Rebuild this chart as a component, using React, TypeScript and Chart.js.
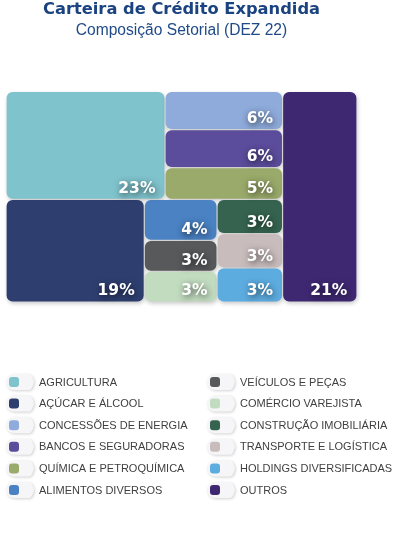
import React, { useEffect, useRef } from 'react';
import { Chart, registerables } from 'chart.js';

Chart.register(...registerables);

const titleText = 'Carteira de Crédito Expandida';
const subtitleText = 'Composição Setorial (DEZ 22)';

const sectors = [
  'AGRICULTURA',
  'AÇÚCAR E ÁLCOOL',
  'CONCESSÕES DE ENERGIA',
  'BANCOS E SEGURADORAS',
  'QUÍMICA E PETROQUÍMICA',
  'ALIMENTOS DIVERSOS',
  'VEÍCULOS E PEÇAS',
  'COMÉRCIO VAREJISTA',
  'CONSTRUÇÃO IMOBILIÁRIA',
  'TRANSPORTE E LOGÍSTICA',
  'HOLDINGS DIVERSIFICADAS',
  'OUTROS',
];

const shares = [23, 19, 6, 6, 5, 4, 3, 3, 3, 3, 3, 21];

const sectorColors = [
  '#7fc3cc',
  '#2e3f6f',
  '#8eabdb',
  '#5c4c9c',
  '#9aaa6a',
  '#4a82c3',
  '#58595b',
  '#c2dcc0',
  '#35634f',
  '#c9bcbc',
  '#5dace0',
  '#3f2872',
];

// Grouping of the treemap (indices into sectors); 'h' splits side by side, 'v' stacks.
type TreeNode = number | { dir: 'h' | 'v'; children: TreeNode[] };
const layoutTree: TreeNode = {
  dir: 'h',
  children: [
    {
      dir: 'v',
      children: [
        { dir: 'h', children: [0, { dir: 'v', children: [2, 3, 4] }] },
        {
          dir: 'h',
          children: [1, { dir: 'v', children: [5, 6, 7] }, { dir: 'v', children: [8, 9, 10] }],
        },
      ],
    },
    11,
  ],
};

const legendColumns = [
  [0, 1, 2, 3, 4, 5],
  [6, 7, 8, 9, 10, 11],
];

type Cell = { index: number; x0: number; y0: number; x1: number; y1: number };

function nodeSum(node: TreeNode): number {
  if (typeof node === 'number') return shares[node];
  return node.children.reduce((s, c) => s + nodeSum(c), 0);
}

function layoutNode(node: TreeNode, x0: number, y0: number, x1: number, y1: number, out: Cell[]) {
  if (typeof node === 'number') {
    out.push({ index: node, x0, y0, x1, y1 });
    return;
  }
  const total = nodeSum(node);
  let pos = node.dir === 'h' ? x0 : y0;
  const span = node.dir === 'h' ? x1 - x0 : y1 - y0;
  node.children.forEach((child) => {
    const size = (nodeSum(child) / total) * span;
    if (node.dir === 'h') layoutNode(child, pos, y0, pos + size, y1, out);
    else layoutNode(child, x0, pos, x1, pos + size, out);
    pos += size;
  });
}

const treemapPlugin = {
  id: 'treemapCells',
  afterDatasetsDraw(chart: any) {
    const ctx: CanvasRenderingContext2D = chart.ctx;
    const xs = chart.scales.x;
    const ys = chart.scales.y;
    const cells: Cell[] = [];
    layoutNode(layoutTree, 0, 0, 1, 1, cells);
    const gap = 0.6;
    const rects = cells.map((c) => {
      const left = xs.getPixelForValue(c.x0) + gap;
      const right = xs.getPixelForValue(c.x1) - gap;
      const top = ys.getPixelForValue(c.y0) + gap;
      const bottom = ys.getPixelForValue(c.y1) - gap;
      return { index: c.index, left, right, top, bottom };
    });
    ctx.save();
    rects.forEach((r) => {
      ctx.save();
      ctx.shadowColor = 'rgba(0,0,0,0.22)';
      ctx.shadowBlur = 4;
      ctx.shadowOffsetX = 1;
      ctx.shadowOffsetY = 2;
      ctx.fillStyle = sectorColors[r.index];
      ctx.beginPath();
      ctx.roundRect(r.left, r.top, r.right - r.left, r.bottom - r.top, 6);
      ctx.fill();
      ctx.restore();
    });
    rects.forEach((r) => {
      ctx.save();
      ctx.font = 'bold 15.5px "DejaVu Sans"';
      ctx.textAlign = 'right';
      ctx.textBaseline = 'alphabetic';
      ctx.shadowColor = 'rgba(0,0,0,0.7)';
      ctx.shadowBlur = 7;
      ctx.shadowOffsetX = 1;
      ctx.shadowOffsetY = 2;
      ctx.fillStyle = '#ffffff';
      ctx.fillText(shares[r.index] + '%', r.right - 9, r.bottom - 6);
      ctx.restore();
    });
    ctx.restore();
  },
};

const sideLegendPlugin = {
  id: 'sideLegend',
  afterDraw(chart: any) {
    const ctx: CanvasRenderingContext2D = chart.ctx;
    const area = chart.chartArea;
    const colOffsets = [0, 201];
    const startY = area.bottom + 80;
    const rowStep = 21.6;
    ctx.save();
    legendColumns.forEach((col, ci) => {
      col.forEach((idx, ri) => {
        const x = area.left + colOffsets[ci];
        const y = startY + ri * rowStep;
        // pill background
        ctx.save();
        ctx.shadowColor = 'rgba(0,0,0,0.18)';
        ctx.shadowBlur = 3;
        ctx.shadowOffsetX = 1;
        ctx.shadowOffsetY = 1;
        ctx.fillStyle = '#f6f6f8';
        ctx.beginPath();
        ctx.moveTo(x + 8, y - 8);
        ctx.lineTo(x + 23, y - 8);
        ctx.quadraticCurveTo(x + 26, y - 8, x + 28, y);
        ctx.quadraticCurveTo(x + 26, y + 8, x + 23, y + 8);
        ctx.lineTo(x + 8, y + 8);
        ctx.arc(x + 8, y, 8, Math.PI / 2, (3 * Math.PI) / 2);
        ctx.closePath();
        ctx.fill();
        ctx.restore();
        // colored square
        ctx.fillStyle = sectorColors[idx];
        ctx.beginPath();
        ctx.roundRect(x + 3, y - 5, 10, 10, 3);
        ctx.fill();
        // text
        ctx.fillStyle = '#3f3f3f';
        ctx.font = '11px "Liberation Sans"';
        ctx.textAlign = 'left';
        ctx.textBaseline = 'middle';
        ctx.fillText(sectors[idx], x + 33, y + 0.5);
      });
    });
    ctx.restore();
  },
};

export default function App() {
  const canvasRef = useRef<HTMLCanvasElement | null>(null);

  useEffect(() => {
    document.body.style.margin = '0';
    const canvas = canvasRef.current;
    if (!canvas) return;
    const chart = new Chart(canvas, {
      type: 'scatter',
      data: {
        datasets: [
          {
            label: 'Composição',
            data: [],
            pointRadius: 0,
          },
        ],
      },
      options: {
        animation: false,
        responsive: false,
        layout: { padding: { left: 6, right: 36, top: 0, bottom: 248 } },
        scales: {
          x: { type: 'linear', min: 0, max: 1, display: false },
          y: { type: 'linear', min: 0, max: 1, reverse: true, display: false },
        },
        plugins: {
          legend: { display: false },
          tooltip: { enabled: false },
          title: {
            display: true,
            text: titleText,
            color: '#1a437f',
            fullSize: false,
            font: { family: '"DejaVu Sans"', size: 16.3, weight: 'bold', lineHeight: 1 },
            padding: { top: 1.5, bottom: 4.7 },
          },
          subtitle: {
            display: true,
            text: subtitleText,
            color: '#1f4a88',
            fullSize: false,
            font: { family: '"Liberation Sans"', size: 15.6, weight: 'normal', lineHeight: 1 },
            padding: { top: 0, bottom: 53.4 },
          },
        },
      },
      plugins: [treemapPlugin, sideLegendPlugin],
    });
    return () => chart.destroy();
  }, []);

  return (
    <div style={{ width: 393, height: 550 }}>
      <canvas ref={canvasRef} width={393} height={550} />
    </div>
  );
}
